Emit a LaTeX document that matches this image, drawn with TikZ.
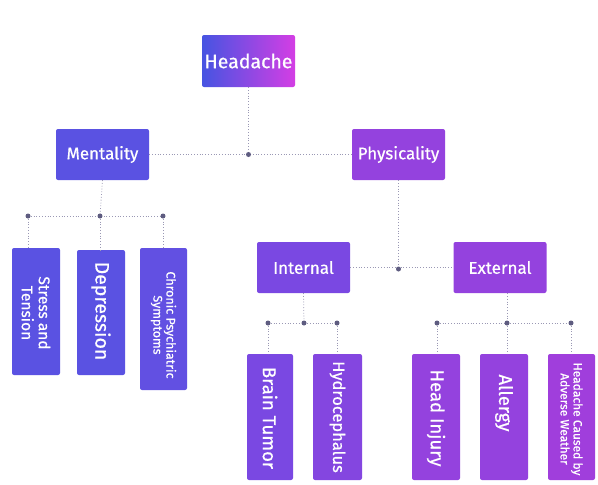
\documentclass[tikz,border=0pt]{standalone}
\usepackage{fontspec}
\setmainfont{Fira Sans}[FakeBold=0.6]
\definecolor{cA}{HTML}{5A52E2}
\definecolor{cB}{HTML}{6250E2}
\definecolor{cC}{HTML}{7A48E2}
\definecolor{cD}{HTML}{8446E0}
\definecolor{cE}{HTML}{9442DE}
\definecolor{cF}{HTML}{A03EDC}
\definecolor{lineC}{HTML}{9A98B4}
\definecolor{dotC}{HTML}{5E5C80}
\definecolor{hL}{HTML}{4654E2}
\definecolor{hR}{HTML}{D43EE4}
\begin{document}
\begin{tikzpicture}[x=1pt,y=-1pt,
  box/.style={rectangle,rounded corners=2pt,draw=none,inner sep=0pt},
  hbox/.style={box,minimum width=93pt,minimum height=51pt},
  vbox/.style={box,minimum width=48pt,minimum height=126pt},
  lbl/.style={text=white,font=\fontsize{17}{19}\selectfont},
  vt/.style={text=white,rotate=-90,align=center,inner sep=0pt},
  conn/.style={draw=lineC,line width=0.8pt,dotted},
  jdot/.style={circle,fill=dotC,inner sep=0pt,minimum size=5pt}]
\useasboundingbox (0,0) rectangle (598,485);
\fill[white] (0,0) rectangle (598,485);
% top level
\node[hbox,left color=hL,right color=hR,minimum height=52pt] (head) at (248.5,61) {};
\node[lbl,font=\fontsize{19.5}{21}\selectfont] (headt) at (head) {Headache};
\node[hbox,fill=cA] (ment) at (102.5,154.5) {};
\node[lbl] (mentt) at (ment) {Mentality};
\node[hbox,fill=cE] (phys) at (398.5,154.5) {};
\node[lbl] (physt) at (phys) {Physicality};
\node[hbox,fill=cC] (int) at (303.5,267.5) {};
\node[lbl] (intt) at (int) {Internal};
\node[hbox,fill=cE] (ext) at (500,267.5) {};
\node[lbl] (extt) at (ext) {External};
% mentality leaves
\node[vbox,fill=cA,minimum height=127pt] (m1) at (36,311.5) {};
\node[vt,font=\fontsize{15.5}{17}\selectfont] (m1t) at (36,313) {Stress and\\Tension};
\node[vbox,fill=cA,minimum height=125pt] (m2) at (101,312.5) {};
\node[vt,font=\fontsize{19.5}{21}\selectfont] (m2t) at (101,311) {Depression};
\node[vbox,fill=cB,minimum width=47pt,minimum height=142pt] (m3) at (163.5,319) {};
\node[vt,font=\fontsize{12.5}{13}\selectfont] (m3t) at (163.5,325) {Chronic Psychiatric\\Symptoms};
% internal leaves
\node[vbox,fill=cC,minimum width=46pt] (i1) at (270,417) {};
\node[vt,font=\fontsize{18.5}{20}\selectfont] (i1t) at (270,418) {Brain Tumor};
\node[vbox,fill=cD,minimum width=49pt] (i2) at (337.5,417) {};
\node[vt,font=\fontsize{16.5}{18}\selectfont] (i2t) at (337.5,417) {Hydrocephalus};
% external leaves
\node[vbox,fill=cE] (e1) at (436,417) {};
\node[vt,font=\fontsize{18.5}{20}\selectfont] (e1t) at (436,418) {Head Injury};
\node[vbox,fill=cE] (e2) at (504,417) {};
\node[vt,font=\fontsize{18.5}{20}\selectfont] (e2t) at (504,403) {Allergy};
\node[vbox,fill=cF,minimum width=47pt] (e3) at (571.5,417) {};
\node[vt,font=\fontsize{12}{13}\selectfont] (e3t) at (571.5,419) {Headache Caused by\\Adverse Weather};
% junctions
\coordinate (j0) at (248.5,154.5);
\coordinate (jm) at (100,216);
\coordinate (jm1) at (28,216);
\coordinate (jm3) at (163,216);
\coordinate (jp) at (398.5,269);
\coordinate (ji) at (304,323);
\coordinate (ji1) at (268,323);
\coordinate (ji2) at (337,323);
\coordinate (je) at (507,323);
\coordinate (je1) at (437,323);
\coordinate (je3) at (571,323);
% connectors
\draw[conn] (head.south) -- (j0);
\draw[conn] (ment.east) -- (phys.west);
\draw[conn] (ment.south) -- (jm);
\draw[conn] (jm1) -- (jm3);
\draw[conn] (jm1) -- (jm1 |- m1.north);
\draw[conn] (jm) -- (jm |- m2.north);
\draw[conn] (jm3) -- (jm3 |- m3.north);
\draw[conn] (phys.south) -- (jp);
\draw[conn] (int.east) -- (ext.west);
\draw[conn] (int.south) -- (ji);
\draw[conn] (ji1) -- (ji2);
\draw[conn] (ji1) -- (ji1 |- i1.north);
\draw[conn] (ji2) -- (ji2 |- i2.north);
\draw[conn] (je |- ext.south) -- (je);
\draw[conn] (je1) -- (je3);
\draw[conn] (je1) -- (je1 |- e1.north);
\draw[conn] (je) -- (je |- e2.north);
\draw[conn] (je3) -- (je3 |- e3.north);
% dots
\foreach \p/\n in {j0/d0,jm/d1,jm1/d2,jm3/d3,jp/d4,ji/d5,ji1/d6,ji2/d7,je/d8,je1/d9,je3/d10}
  \node[jdot] (\n) at (\p) {};
\end{tikzpicture}
\end{document}
